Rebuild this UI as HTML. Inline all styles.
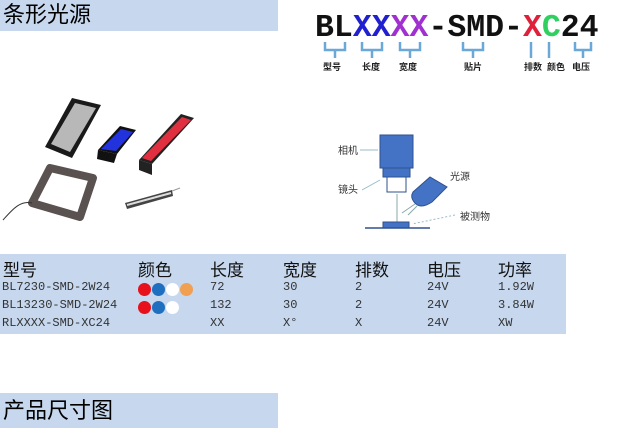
<!DOCTYPE html>
<html><head><meta charset="utf-8"><style>
body{margin:0;width:618px;height:428px;background:#fff;position:relative;overflow:hidden;font-family:"Liberation Serif","Noto Serif CJK SC",serif}
.a{position:absolute;white-space:nowrap}
.h{background:#c6d7ee;color:#000;font-family:"Liberation Sans","Noto Sans CJK SC",sans-serif;font-size:22px;line-height:30px;padding-left:3px}
.t{font-family:"Liberation Mono","Noto Sans CJK SC",monospace;font-size:12px;color:#333}
.th{font-family:"Liberation Sans","Noto Sans CJK SC",sans-serif;font-size:17px;color:#111}
.d{display:inline-block;width:13px;height:13px;border-radius:50%;margin-right:1px;vertical-align:middle}
.code{font-family:"Liberation Mono",monospace;font-size:31.5px;font-weight:bold}
.lb{font-family:"Noto Sans CJK SC",sans-serif;font-size:9px;font-weight:bold;color:#222}
</style></head><body>
<div class="a h" style="left:0;top:0;width:275px;height:31px">条形光源</div>
<div class="a h" style="left:0;top:393px;width:275px;height:35px;line-height:35px">产品尺寸图</div>

<div class="a code" style="left:315px;top:11px;line-height:36px"><span style="color:#111">BL</span><span style="color:#2020d0">XX</span><span style="color:#a030d0">XX</span><span style="color:#111">-SMD-</span><span style="color:#e0203a">X</span><span style="color:#30d060">C</span><span style="color:#111">24</span></div>
<svg class="a" style="left:300px;top:40px" width="318" height="30" stroke="#6aa8d8" stroke-width="2.5" fill="none">
<path d="M25 2v8h20v-8M35 10v8"/><path d="M62 2v8h20v-8M72 10v8"/><path d="M100 2v8h20v-8M110 10v8"/>
<path d="M163 2v8h20v-8M173 10v8"/><path d="M231 2v16"/><path d="M249 2v16"/><path d="M275 2v8h16v-8M283 10v8"/>
</svg>
<div class="a lb" style="left:323px;top:60px">型号</div>
<div class="a lb" style="left:362px;top:60px">长度</div>
<div class="a lb" style="left:399px;top:60px">宽度</div>
<div class="a lb" style="left:464px;top:60px">贴片</div>
<div class="a lb" style="left:524px;top:60px">排数</div>
<div class="a lb" style="left:547px;top:60px">颜色</div>
<div class="a lb" style="left:572px;top:60px">电压</div>

<svg class="a" style="left:0;top:0" width="320" height="240">
<polygon points="72,98 101,105 72,158 45,147" fill="#1a1a1a"/>
<polygon points="75,103 96,108 70,152 51,144" fill="#b8b8b8"/>
<polygon points="98,150 117,154 114,163 97,159" fill="#111"/>
<polygon points="98,150 120,126 136,130 117,154" fill="#111"/>
<polygon points="101,149 121,129 133,132 116,151" fill="#2233dd"/>
<polygon points="139,160 152,164 152,175 139,170" fill="#222"/>
<polygon points="139,160 181,114 194,118 152,164" fill="#222"/>
<polygon points="142,158 182,117 191,120 151,161" fill="#e03040"/>
<polygon points="50,168 93,178 80,217 32,203" fill="none" stroke="#5a5250" stroke-width="8" stroke-linejoin="round"/>
<path d="M32 203 C20 200 12 210 3 220" stroke="#333" fill="none"/>
<polygon points="125,203 172,190 173,196 127,209" fill="#444"/>
<line x1="127" y1="205" x2="171" y2="193" stroke="#ddd" stroke-width="2"/>
<line x1="172" y1="191" x2="180" y2="188" stroke="#999"/>
</svg>

<svg class="a" style="left:320px;top:120px" width="200" height="120" font-family="Noto Sans CJK SC" font-size="10" fill="#333">
<text x="18" y="34">相机</text><text x="18" y="73">镜头</text><text x="130" y="60">光源</text><text x="140" y="100">被测物</text>
<rect x="60" y="15" width="33" height="33" fill="#4472c4" stroke="#2f528f"/>
<rect x="63" y="48" width="27" height="9" fill="#4472c4" stroke="#2f528f"/>
<rect x="67" y="57" width="19" height="15" fill="#fff" stroke="#2f528f"/>
<path d="M93 72 L110 57 L127 67 L112 82 Q100 90 94 82 Q90 77 93 72Z" fill="#4472c4" stroke="#2f528f"/>
<line x1="77" y1="102" x2="77" y2="74" stroke="#8aa"/>
<line x1="95" y1="84" x2="82" y2="93" stroke="#8aa"/><line x1="97" y1="86" x2="88" y2="95" stroke="#8aa"/>
<rect x="63" y="102" width="26" height="6" fill="#4472c4" stroke="#2f528f"/>
<line x1="45" y1="108" x2="110" y2="108" stroke="#2f528f" stroke-width="1.5"/>
<line x1="40" y1="30" x2="58" y2="30" stroke="#9bc"/><line x1="42" y1="70" x2="60" y2="60" stroke="#9bc"/>
<line x1="135" y1="95" x2="92" y2="104" stroke="#9bc" stroke-dasharray="2 2"/>
</svg>

<div class="a" style="left:0;top:254px;width:566px;height:80px;background:#c6d7ee"></div>
<div class="a th" style="left:3px;top:256px">型号</div><div class="a th" style="left:138px;top:256px">颜色</div>
<div class="a th" style="left:210px;top:256px">长度</div><div class="a th" style="left:283px;top:256px">宽度</div>
<div class="a th" style="left:355px;top:256px">排数</div><div class="a th" style="left:427px;top:256px">电压</div>
<div class="a th" style="left:498px;top:256px">功率</div>

<div class="a t" style="left:2px;top:280px">BL7230-SMD-2W24</div>
<div class="a" style="left:138px;top:280px"><span class="d" style="background:#e8101a"></span><span class="d" style="background:#1f6fc0"></span><span class="d" style="background:#fff"></span><span class="d" style="background:#f0a050"></span></div>
<div class="a t" style="left:210px;top:280px">72</div><div class="a t" style="left:283px;top:280px">30</div><div class="a t" style="left:355px;top:280px">2</div><div class="a t" style="left:427px;top:280px">24V</div><div class="a t" style="left:498px;top:280px">1.92W</div>

<div class="a t" style="left:2px;top:298px">BL13230-SMD-2W24</div>
<div class="a" style="left:138px;top:298px"><span class="d" style="background:#e8101a"></span><span class="d" style="background:#1f6fc0"></span><span class="d" style="background:#fff"></span></div>
<div class="a t" style="left:210px;top:298px">132</div><div class="a t" style="left:283px;top:298px">30</div><div class="a t" style="left:355px;top:298px">2</div><div class="a t" style="left:427px;top:298px">24V</div><div class="a t" style="left:498px;top:298px">3.84W</div>

<div class="a t" style="left:2px;top:316px">RLXXXX-SMD-XC24</div>
<div class="a t" style="left:210px;top:316px">XX</div><div class="a t" style="left:283px;top:316px">X°</div><div class="a t" style="left:355px;top:316px">X</div><div class="a t" style="left:427px;top:316px">24V</div><div class="a t" style="left:498px;top:316px">XW</div>
</body></html>
